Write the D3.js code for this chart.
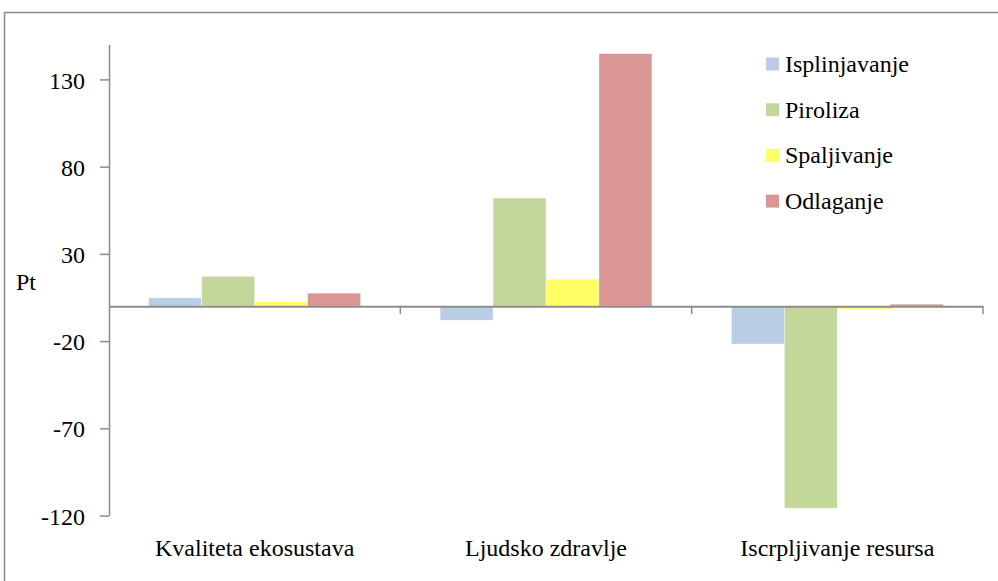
<!DOCTYPE html>
<html><head><meta charset="utf-8">
<script src="https://cdn.jsdelivr.net/npm/d3@7"></script>
<style>
html,body{margin:0;padding:0;background:#fff;overflow:hidden}
svg text{font-family:'Liberation Serif','Times New Roman',Times,Tinos,'DejaVu Serif',serif !important;fill:#000}
</style></head>
<body>
<svg id="c" width="998" height="581"></svg>
<script>
const categories = ["Kvaliteta ekosustava", "Ljudsko zdravlje", "Iscrpljivanje resursa"];
const seriesNames = ["Isplinjavanje", "Piroliza", "Spaljivanje", "Odlaganje"];
const isplinjavanje = [4.8, -8, -21.7];
const piroliza = [17.1, 62, -115.8];
const spaljivanje = [2.7, 15.5, -1.7];
const odlaganje = [7.5, 144.8, 1.2];
const seriesColors = ["#B9CDE5", "#C4D79B", "#FFFF66", "#D99694"];
const yTicks = [-120, -70, -20, 30, 80, 130];
const yLabel = "Pt";

const values = [isplinjavanje, piroliza, spaljivanje, odlaganje];
const svg = d3.select("#c");
const FS = 24;

// outer frame
svg.append("rect").attr("x", 4.5).attr("y", 12.5).attr("width", 1100).attr("height", 700)
  .attr("fill", "none").attr("stroke", "#8c8c8c").attr("stroke-width", 1.5);

const left = 109, right = 983;
const y = d3.scaleLinear().domain([-120, 150]).range([515.6, 44.5]);
const x0 = d3.scaleBand().domain(categories).range([left, right]).paddingInner(0).paddingOuter(0);
const groupW = x0.bandwidth() * 4 / 5.5;
const x1 = d3.scaleBand().domain(seriesNames).range([0, groupW]).padding(0);
const off = (x0.bandwidth() - groupW) / 2;

// bars
const g = svg.append("g");
categories.forEach((c, ci) => {
  seriesNames.forEach((s, si) => {
    const v = values[si][ci];
    g.append("rect")
      .attr("x", x0(c) + off + x1(s))
      .attr("y", y(Math.max(0, v)))
      .attr("width", x1.bandwidth())
      .attr("height", Math.abs(y(v) - y(0)))
      .attr("fill", seriesColors[si])
      .attr("stroke", "#fff").attr("stroke-opacity", 0.5).attr("stroke-width", 0.8);
  });
});

// y axis
const ya = svg.append("g").attr("transform", `translate(${left},0)`)
  .call(d3.axisLeft(y).tickValues(yTicks).tickFormat(d => String(d)).tickSize(9).tickPadding(15).tickSizeOuter(0));
ya.attr("font-family", null);
ya.select(".domain").attr("stroke", "#8c8c8c").attr("stroke-width", 1.5);
ya.selectAll(".tick line").attr("stroke", "#8c8c8c").attr("stroke-width", 1.5);
ya.selectAll(".tick text").attr("font-size", FS).attr("fill", "#000").attr("dy", "0.36em");

// x axis at zero
const xa = svg.append("g").attr("transform", `translate(0,${y(0)})`)
  .call(d3.axisBottom(x0).tickSize(0).tickFormat(""));
xa.select(".domain").attr("stroke", "#8c8c8c").attr("stroke-width", 2);
const bounds = categories.map(c => x0(c) + x0.bandwidth());
svg.append("g").selectAll("line").data(bounds).join("line")
  .attr("x1", d => d).attr("x2", d => d).attr("y1", y(0)).attr("y2", y(0) + 8)
  .attr("stroke", "#8c8c8c").attr("stroke-width", 1.5);

// category labels
svg.append("g").selectAll("text").data(categories).join("text")
  .attr("x", d => x0(d) + x0.bandwidth() / 2).attr("y", 556)
  .attr("text-anchor", "middle").attr("font-size", FS).text(d => d);

// y label
svg.append("text").attr("x", 16).attr("y", 290).attr("font-size", FS).text(yLabel);

// legend
const lg = svg.append("g");
seriesNames.forEach((s, i) => {
  const cy = 64 + i * 45.7;
  lg.append("rect").attr("x", 766).attr("y", cy - 6.5).attr("width", 13).attr("height", 13).attr("fill", seriesColors[i]);
  lg.append("text").attr("x", 785).attr("y", cy).attr("dy", "0.33em").attr("font-size", FS).text(s);
});
</script>
</body></html>
